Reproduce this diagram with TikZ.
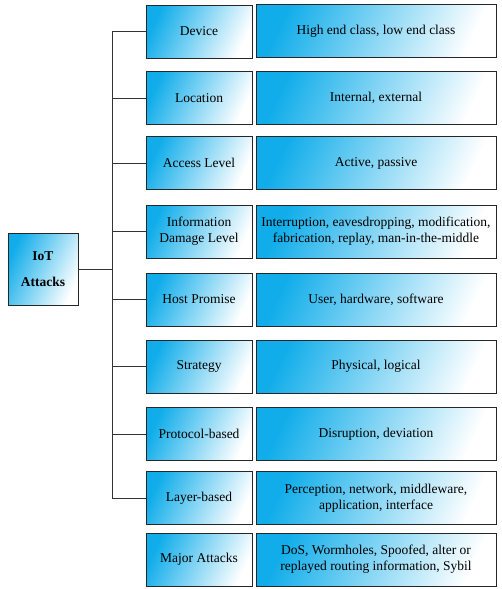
\documentclass[tikz,border=0pt]{standalone}
\usepackage{fontspec}
\setmainfont{Liberation Serif}
\definecolor{boxcyan}{HTML}{10ADEA}
\definecolor{lineg}{HTML}{333333}
\begin{document}
\begin{tikzpicture}[x=1pt,y=-1pt,
  box/.style={draw=black!85, line width=1pt, top color=boxcyan, bottom color=white,
    shading angle=65, inner sep=0pt, align=center,
    font=\fontsize{13.5}{16}\selectfont},
  mid/.style={box, minimum width=106pt, minimum height=53pt},
  rgt/.style={box, minimum width=240pt, minimum height=53pt},
  conn/.style={draw=lineg, line width=0.9pt}]
\useasboundingbox (0,0) rectangle (501,589);
\coordinate (trunk) at (112,0);
\node[box, minimum width=70pt, minimum height=72pt, font=\bfseries\fontsize{13.5}{26}\selectfont] (iot) at (43,269) {IoT\\Attacks};
\node[mid] (m1) at (199,31.5) {Device};
\node[mid] (m2) at (199,98) {Location};
\node[mid] (m3) at (199,163) {Access Level};
\node[mid] (m4) at (199,231.5) {Information\\Damage Level};
\node[mid] (m5) at (199,299.5) {Host Promise};
\node[mid] (m6) at (199,366.5) {Strategy};
\node[mid] (m7) at (199,434) {Protocol-based};
\node[mid] (m8) at (199,498) {Layer-based};
\node[mid] (m9) at (199,559.5) {Major Attacks};
\node[rgt] (r1) at (376,31) {High end class, low end class};
\node[rgt] (r2) at (376,98) {Internal, external};
\node[rgt] (r3) at (376,163) {Active, passive};
\node[rgt] (r4) at (376,231.5) {Interruption, eavesdropping, modification,\\fabrication, replay, man-in-the-middle};
\node[rgt] (r5) at (376,299.5) {User, hardware, software};
\node[rgt] (r6) at (376,366.5) {Physical, logical};
\node[rgt] (r7) at (376,434) {Disruption, deviation};
\node[rgt] (r8) at (376,498) {Perception, network, middleware,\\application, interface};
\node[rgt] (r9) at (376,559.5) {DoS, Wormholes, Spoofed, alter or\\replayed routing information, Sybil};
\draw[conn] (m1.west -| trunk) -- (m8.west -| trunk);
\draw[conn] (iot.east) -- (iot.east -| trunk);
\foreach \i in {1,...,8} {\draw[conn] (m\i.west -| trunk) -- (m\i.west);}
\end{tikzpicture}
\end{document}
